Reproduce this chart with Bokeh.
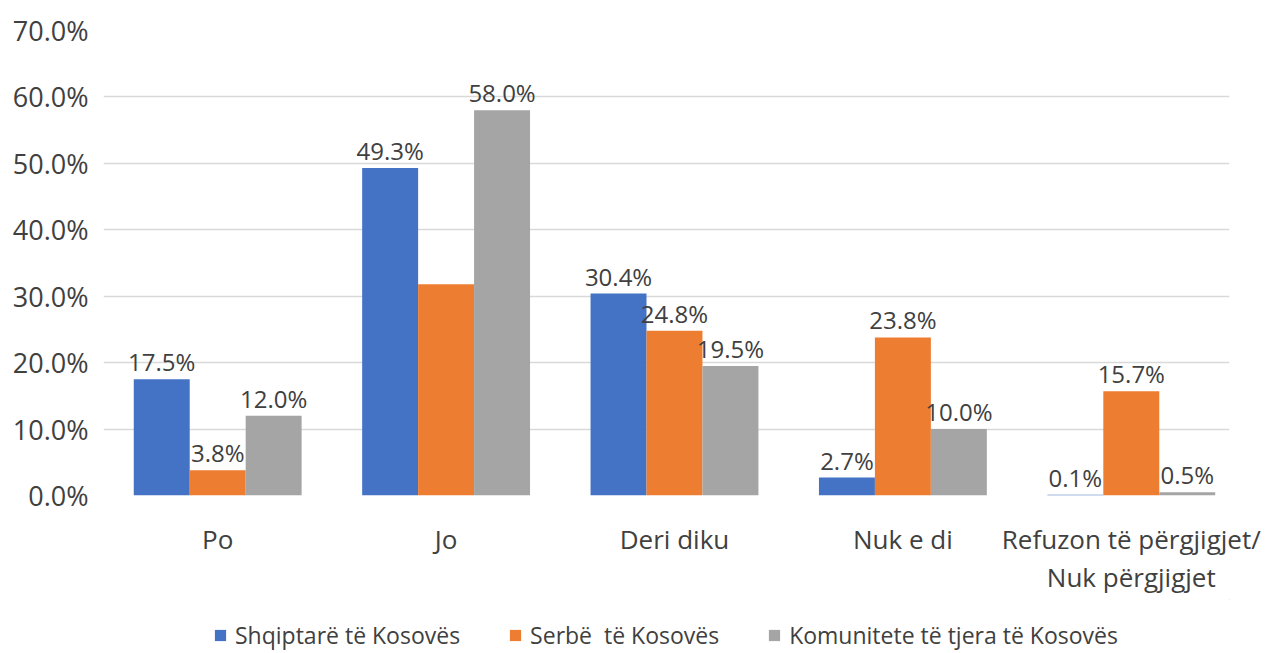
from bokeh.plotting import figure
from bokeh.layouts import column
from bokeh.models import (ColumnDataSource, Range1d, FixedTicker, PrintfTickFormatter,
                          Legend, LegendItem)
from bokeh.core.properties import value
from bokeh.embed import file_html
from bokeh.resources import INLINE

categories = ["Po", "Jo", "Deri diku", "Nuk e di", "Refuzon të përgjigjet/\nNuk përgjigjet"]
series_names = ["Shqiptarë të Kosovës", "Serbë  të Kosovës", "Komunitete të tjera të Kosovës"]
albanians = [17.5, 49.3, 30.4, 2.7, 0.1]
serbs = [3.8, 31.8, 24.8, 23.8, 15.7]
others = [12.0, 58.0, 19.5, 10.0, 0.5]
serbs_labelled = [True, False, True, True, True]
y_ticks = [0, 10, 20, 30, 40, 50, 60, 70]

colors = ["#4472C4", "#ED7D31", "#A5A5A5"]
FONT = "Open Sans"
TXT = "#404040"
W = 1279

p = figure(width=W, height=599, output_backend="svg", toolbar_location=None,
           x_range=Range1d(0, 4.93), y_range=Range1d(0, 70),
           min_border_left=103, min_border_right=50, min_border_top=30, min_border_bottom=104)
p.outline_line_color = None

bar_w = 0.245
offsets = [-bar_w, 0.0, bar_w]
series = [albanians, serbs, others]
flags = [[True] * len(categories), serbs_labelled, [True] * len(categories)]

for vals, off, col, fl in zip(series, offsets, colors, flags):
    xs = [i + 0.5 + off for i in range(len(categories))]
    src = ColumnDataSource(dict(x=xs, top=vals,
                                label=[f"{v:.1f}%" if f else "" for v, f in zip(vals, fl)]))
    p.vbar(x="x", top="top", bottom=0, width=bar_w, source=src,
           fill_color=col, line_color=None)
    p.text(x="x", y="top", text="label", source=src, text_align="center",
           text_baseline="bottom", y_offset=-1, text_font=value(FONT),
           text_font_size="24px", text_color=TXT)

p.xaxis.ticker = FixedTicker(ticks=[i + 0.5 for i in range(len(categories))])
p.xaxis.major_label_overrides = {i + 0.5: c for i, c in enumerate(categories)}
p.xaxis.axis_line_color = None
p.xaxis.major_tick_line_color = None
p.xaxis.minor_tick_line_color = None
p.xaxis.major_label_text_font = FONT
p.xaxis.major_label_text_font_size = "26px"
p.xaxis.major_label_text_color = TXT
p.xaxis.major_label_standoff = 19
p.xaxis.major_label_text_line_height = 1.08

p.yaxis.ticker = FixedTicker(ticks=y_ticks)
p.yaxis.formatter = PrintfTickFormatter(format="%.1f%%")
p.yaxis.axis_line_color = None
p.yaxis.major_tick_line_color = None
p.yaxis.minor_tick_line_color = None
p.yaxis.major_label_text_font = FONT
p.yaxis.major_label_text_font_size = "27px"
p.yaxis.major_label_text_color = TXT
p.yaxis.major_label_standoff = 9

p.xgrid.grid_line_color = None
p.ygrid.grid_line_color = "#d9d9d9"
p.ygrid.grid_line_width = 1.5

# legend strip below the chart (its frame is aligned with the chart's frame by the column)
lg = figure(width=W, height=53, output_backend="svg", toolbar_location=None,
            x_range=Range1d(0, 1), y_range=Range1d(0, 1),
            min_border_left=103, min_border_right=50, min_border_top=0, min_border_bottom=0,
            x_axis_type=None, y_axis_type=None)
lg.outline_line_color = None
lg.xgrid.grid_line_color = None
lg.ygrid.grid_line_color = None
items = []
for name, col in zip(series_names, colors):
    r = lg.vbar(x=[5], top=[5], bottom=[4], width=0.1, fill_color=col, line_color=None)
    items.append(LegendItem(label=name, renderers=[r]))
legend = Legend(items=items, orientation="horizontal", location=(110, 1),
                glyph_width=14, glyph_height=14, label_standoff=8, spacing=48,
                label_text_font=FONT, label_text_font_size="23px", label_text_color=TXT,
                background_fill_alpha=0, border_line_alpha=0, padding=0, margin=0)
lg.add_layout(legend)

layout = column(p, lg, spacing=0)
open("out.html", "w").write(file_html(layout, INLINE))
